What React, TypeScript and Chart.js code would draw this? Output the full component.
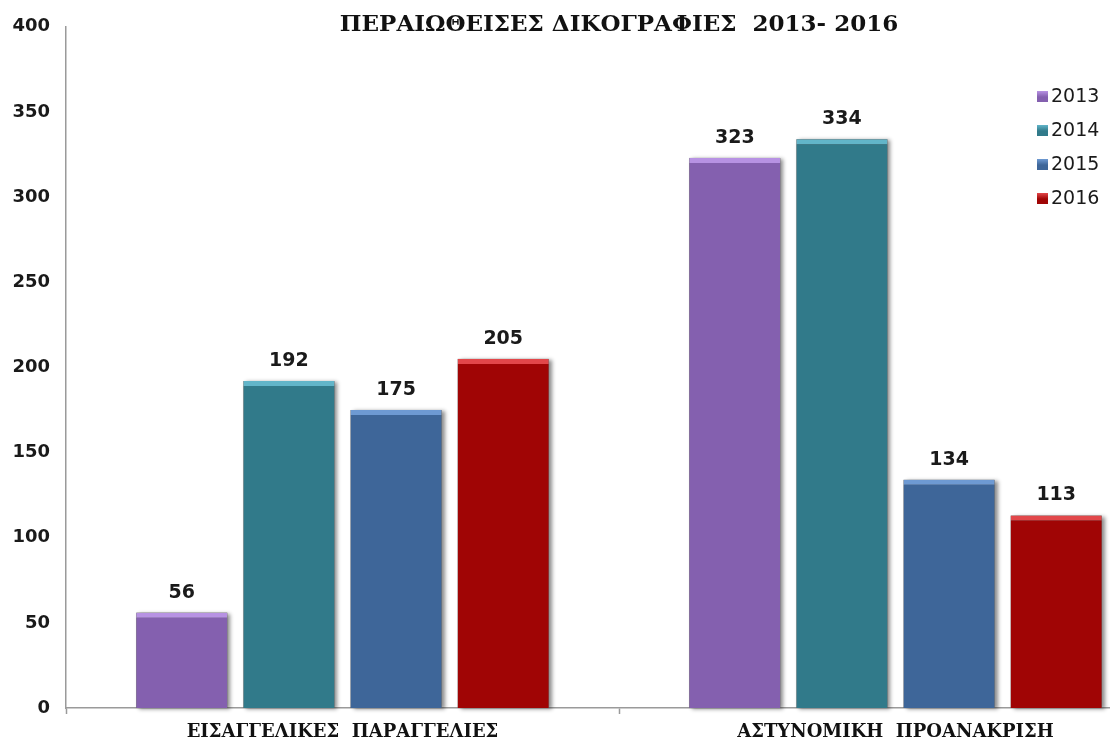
import { useEffect, useRef } from 'react';
import { Chart, registerables } from 'chart.js';

Chart.register(...registerables);

const chartTitle = 'ΠΕΡΑΙΩΘΕΙΣΕΣ ΔΙΚΟΓΡΑΦΙΕΣ  2013- 2016';
const categories = ['ΕΙΣΑΓΓΕΛΙΚΕΣ  ΠΑΡΑΓΓΕΛΙΕΣ', 'ΑΣΤΥΝΟΜΙΚΗ  ΠΡΟΑΝΑΚΡΙΣΗ'];
const years = ['2013', '2014', '2015', '2016'];
const values2013 = [56, 323];
const values2014 = [192, 334];
const values2015 = [175, 134];
const values2016 = [205, 113];
const yMin = 0;
const yMax = 400;
const yStep = 50;

const fillColors = ['#8460AF', '#317A8A', '#3E6699', '#A00505'];
const topColors = ['#B792E3', '#62B5C9', '#6E9AD3', '#E2474A'];

const shadowPlugin = {
  id: 'barShadow',
  beforeDatasetsDraw(chart: any) {
    const ctx = chart.ctx;
    ctx.save();
    ctx.shadowColor = 'rgba(0,0,0,0.45)';
    ctx.shadowBlur = 4;
    ctx.shadowOffsetX = 3;
    ctx.shadowOffsetY = 1;
    ctx.fillStyle = '#666';
    chart.data.datasets.forEach((_ds: any, i: number) => {
      chart.getDatasetMeta(i).data.forEach((el: any) => {
        const { x, y, base, width } = el.getProps(['x', 'y', 'base', 'width'], true);
        ctx.fillRect(x - width / 2, y, width, base - y);
      });
    });
    ctx.restore();
  },
};

const valueLabelPlugin = {
  id: 'valueLabels',
  afterDatasetsDraw(chart: any) {
    const ctx = chart.ctx;
    ctx.save();
    ctx.font = 'bold 19px "DejaVu Sans"';
    ctx.fillStyle = '#1a1a1a';
    ctx.textAlign = 'center';
    ctx.textBaseline = 'middle';
    chart.data.datasets.forEach((ds: any, i: number) => {
      chart.getDatasetMeta(i).data.forEach((el: any, j: number) => {
        ctx.fillText(String(ds.data[j]), el.x, el.y - 20);
      });
    });
    ctx.restore();
  },
};

const legendPlugin = {
  id: 'sideLegend',
  afterDraw(chart: any) {
    const ctx = chart.ctx;
    ctx.save();
    ctx.font = '19px "DejaVu Sans"';
    ctx.textAlign = 'left';
    ctx.textBaseline = 'middle';
    chart.data.datasets.forEach((ds: any, i: number) => {
      const cy = 97 + i * 34;
      const g = ctx.createLinearGradient(0, cy - 6, 0, cy + 6);
      g.addColorStop(0, topColors[i]);
      g.addColorStop(0.5, fillColors[i]);
      g.addColorStop(1, fillColors[i]);
      ctx.fillStyle = g;
      ctx.fillRect(1037, cy - 6, 11, 11);
      ctx.fillStyle = '#1a1a1a';
      ctx.fillText(ds.label, 1051, cy);
    });
    ctx.restore();
  },
};

export default function App() {
  const ref = useRef<HTMLCanvasElement | null>(null);

  useEffect(() => {
    if (!ref.current) return;
    const seriesValues = [values2013, values2014, values2015, values2016];
    const chart = new Chart(ref.current, {
      type: 'bar',
      data: {
        labels: categories,
        datasets: years.map((y, i) => ({
          label: y,
          data: seriesValues[i],
          backgroundColor: fillColors[i],
          borderColor: topColors[i],
          borderWidth: { top: 5, left: 0, right: 0, bottom: 0 },
          borderSkipped: false,
          categoryPercentage: 0.775,
          barPercentage: 0.85,
        })),
      },
      options: {
        responsive: false,
        animation: false,
        devicePixelRatio: 1,
        layout: { padding: { left: 0, right: 8, top: 0, bottom: 0 } },
        plugins: {
          legend: { display: false },
          tooltip: { enabled: false },
          title: {
            display: true,
            text: chartTitle,
            fullSize: false,
            color: '#111',
            font: { family: '"DejaVu Serif"', size: 23, weight: 'bold', lineHeight: 1.2 },
            padding: { top: 8, bottom: -12.1 },
          },
        },
        scales: {
          x: {
            offset: true,
            border: { display: true, color: '#9a9a9a', width: 1.5 },
            grid: {
              offset: true,
              drawOnChartArea: false,
              drawTicks: true,
              tickLength: 6,
              tickColor: '#9a9a9a',
              tickWidth: 1.5,
            },
            ticks: {
              padding: 8,
              color: '#111',
              font: { family: '"DejaVu Serif"', size: 18, weight: 'bold' },
              maxRotation: 0,
              autoSkip: false,
            },
            afterFit: (scale: any) => {
              scale.height = 36;
            },
          },
          y: {
            min: yMin,
            max: yMax,
            border: { display: true, color: '#9a9a9a', width: 1.5 },
            grid: { display: false, drawTicks: false },
            ticks: {
              stepSize: yStep,
              padding: 16,
              color: '#1a1a1a',
              font: { family: '"DejaVu Sans"', size: 18, weight: 'bold' },
            },
            afterFit: (scale: any) => {
              scale.width = 66;
            },
          },
        },
      },
      plugins: [shadowPlugin, valueLabelPlugin, legendPlugin],
    });
    return () => chart.destroy();
  }, []);

  return (
    <div
      style={{
        position: 'fixed',
        left: 0,
        top: 0,
        width: 1110,
        height: 744,
        overflow: 'hidden',
        background: '#fff',
      }}
    >
      <canvas ref={ref} width={1180} height={744} style={{ display: 'block' }} />
    </div>
  );
}
